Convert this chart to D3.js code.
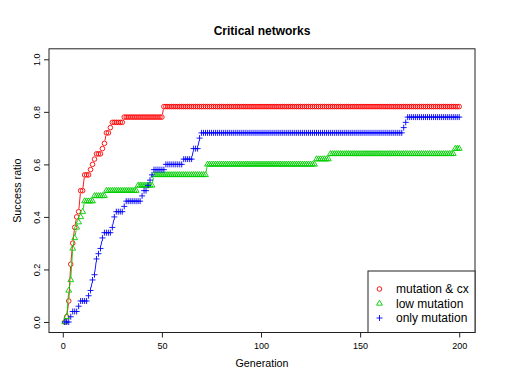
<!DOCTYPE html>
<html>
<head>
<meta charset="utf-8">
<script src="https://cdn.jsdelivr.net/npm/d3@7"></script>
<style>
body { margin: 0; background: #fff; }
svg { display: block; }
text { font-family: "Liberation Sans", Arial, sans-serif; fill: #000; }
</style>
</head>
<body>
<svg id="canvas" width="506" height="391"></svg>
<script>
// success ratio, stored as [ratio, how many generations it lasts]
let mutCxRuns = [[0,1],[0.02,1],[0.08,1],[0.22,1],[0.30,1],[0.36,1],[0.40,1],[0.42,1],
    [0.50,2],[0.56,3],[0.58,1],[0.60,1],[0.62,1],[0.64,3],[0.66,1],[0.68,1],[0.72,2],
    [0.74,1],[0.76,6],[0.78,20],[0.82,150]];
let lowMutRuns = [[0,1],[0.02,1],[0.12,1],[0.16,1],[0.28,1],[0.32,1],[0.36,1],[0.38,1],
    [0.40,1],[0.42,1],[0.46,5],[0.48,6],[0.50,16],[0.52,8],[0.56,27],[0.60,55],[0.62,7],
    [0.64,63],[0.66,3]];
let onlyMutRuns = [[0,3],[0.02,1],[0.04,3],[0.06,1],[0.08,4],[0.10,1],[0.12,1],[0.16,1],
    [0.18,1],[0.24,1],[0.26,1],[0.28,1],[0.32,1],[0.34,4],[0.36,1],[0.40,1],[0.42,4],
    [0.44,1],[0.46,8],[0.48,1],[0.50,2],[0.52,1],[0.54,1],[0.56,1],[0.58,6],[0.60,9],
    [0.62,5],[0.66,3],[0.70,1],[0.72,102],[0.74,1],[0.76,1],[0.78,27]];

let seriesNames = ['mutation & cx', 'low mutation', 'only mutation'];
let xTicks = [0, 50, 100, 150, 200];
let yTicks = [0, 0.2, 0.4, 0.6, 0.8, 1.0];

// one point per generation, starting at generation 1
let unroll = (runs) => {
    let vals = [];
    runs.forEach(([v, n]) => { for (let i = 0; i < n; i++) vals.push(v); });
    return vals.map((v, i) => ({gen: i + 1, val: v}));
};

let series = [
    {name: seriesNames[0], color: '#ff0000', shape: 'circle', data: unroll(mutCxRuns)},
    {name: seriesNames[1], color: '#00cd00', shape: 'triangle', data: unroll(lowMutRuns)},
    {name: seriesNames[2], color: '#0000ff', shape: 'plus', data: unroll(onlyMutRuns)}
];

let canvas = d3.select('#canvas');

// R style: 4% padding around the data range
let x = d3.scaleLinear().domain([-6.96, 207.96]).range([49, 475]);
let y = d3.scaleLinear().domain([-0.04, 1.04]).range([332.5, 48.8]);

let shapePath = {
    circle: null,
    triangle: 'M0,-3.3L2.9,1.7L-2.9,1.7Z',
    plus: 'M-3,0H3M0,-3V3'
};

let drawSymbol = (sel, shape, color) => {
    if (shape === 'circle') {
        sel.append('circle').attr('r', 2.3)
            .attr('fill', 'none').attr('stroke', color).attr('stroke-width', 0.9);
    } else {
        sel.append('path').attr('d', shapePath[shape])
            .attr('fill', 'none').attr('stroke', color).attr('stroke-width', 0.9);
    }
};

// type="b": line pieces with a gap round every point
let gap = 2.8;
series.forEach(s => {
    let g = canvas.append('g');
    let pts = s.data.map(d => [x(d.gen), y(d.val)]);
    for (let i = 1; i < pts.length; i++) {
        let [x1, y1] = pts[i - 1], [x2, y2] = pts[i];
        let len = Math.hypot(x2 - x1, y2 - y1);
        if (len <= 2 * gap) continue;
        let ux = (x2 - x1) / len, uy = (y2 - y1) / len;
        g.append('line')
            .attr('x1', x1 + ux * gap).attr('y1', y1 + uy * gap)
            .attr('x2', x2 - ux * gap).attr('y2', y2 - uy * gap)
            .attr('stroke', s.color).attr('stroke-width', 0.9);
    }
    g.selectAll('g.pt')
        .data(s.data)
        .enter()
        .append('g')
        .attr('class', 'pt')
        .attr('transform', d => `translate(${x(d.gen)},${y(d.val)})`)
        .each(function() { drawSymbol(d3.select(this), s.shape, s.color); });
});

// box
canvas.append('rect')
    .attr('x', 49).attr('y', 48.8).attr('width', 426).attr('height', 283.7)
    .attr('fill', 'none').attr('stroke', '#222').attr('stroke-width', 1);

// axes
let xAxis = canvas.append('g')
    .attr('transform', 'translate(0,332.5)')
    .call(d3.axisBottom(x).tickValues(xTicks).tickSize(5).tickPadding(5).tickFormat(d3.format('d')));
let yAxis = canvas.append('g')
    .attr('transform', 'translate(49,0)')
    .call(d3.axisLeft(y).tickValues(yTicks).tickSize(5).tickFormat(d3.format('.1f')));

[xAxis, yAxis].forEach(a => {
    a.select('.domain').remove();
    a.selectAll('line').attr('stroke', '#222');
    a.selectAll('text').attr('font-size', 9).attr('font-family', '"Liberation Sans", Arial, sans-serif').attr('fill', '#000');
});
yAxis.selectAll('text')
    .attr('transform', 'rotate(-90)')
    .attr('x', 0).attr('y', -9.5).attr('dy', 0)
    .attr('text-anchor', 'middle');

// titles
canvas.append('text')
    .attr('x', 262).attr('y', 35).attr('text-anchor', 'middle')
    .attr('font-size', 12).attr('font-weight', 'bold')
    .text('Critical networks');
canvas.append('text')
    .attr('x', 262).attr('y', 367).attr('text-anchor', 'middle')
    .attr('font-size', 10.7)
    .text('Generation');
canvas.append('text')
    .attr('transform', 'translate(21,190.7) rotate(-90)')
    .attr('text-anchor', 'middle')
    .attr('font-size', 10.7)
    .text('Success ratio');

// legend, bottom right inside the box
let legend = canvas.append('g');
legend.append('rect')
    .attr('x', 368).attr('y', 271).attr('width', 107).attr('height', 61.5)
    .attr('fill', '#fff').attr('stroke', '#222').attr('stroke-width', 1);
series.forEach((s, i) => {
    let row = legend.append('g').attr('transform', `translate(0,${289 + i * 14.5})`);
    drawSymbol(row.append('g').attr('transform', 'translate(379.5,0)'), s.shape, s.color);
    row.append('text')
        .attr('x', 396).attr('y', 4.3)
        .attr('font-size', 12)
        .text(s.name);
});
</script>
</body>
</html>
